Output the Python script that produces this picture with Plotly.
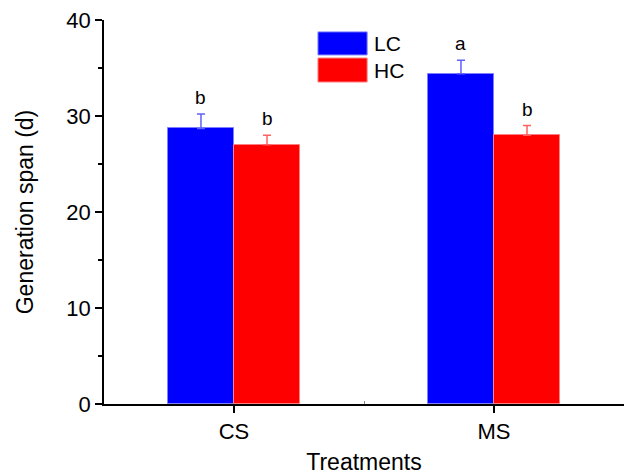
import plotly.graph_objects as go

categories = ["CS", "MS"]
cat_pos = [0, 1]
lc_values = [28.7, 34.4]
lc_errors = [1.5, 1.4]
hc_values = [27.0, 28.0]
hc_errors = [1.0, 1.0]
lc_letters = ["b", "a"]
hc_letters = ["b", "b"]
series_names = ["LC", "HC"]
y_ticks = [0, 10, 20, 30, 40]

FONT = "Liberation Sans, Arial, sans-serif"
BAR_W = 0.254
OFF = BAR_W / 2

fig = go.Figure()
fig.add_trace(go.Bar(
    x=[p - OFF for p in cat_pos], y=lc_values, width=BAR_W, name=series_names[0],
    marker=dict(color="#0000ff", line=dict(color="#7f7fff", width=1)),
    error_y=dict(type="data", array=lc_errors, arrayminus=[0, 0], symmetric=False,
                 color="#6060ff", thickness=1.5, width=4),
    showlegend=False))
fig.add_trace(go.Bar(
    x=[p + OFF for p in cat_pos], y=hc_values, width=BAR_W, name=series_names[1],
    marker=dict(color="#ff0000", line=dict(color="#ff8080", width=1)),
    error_y=dict(type="data", array=hc_errors, arrayminus=[0, 0], symmetric=False,
                 color="#ff6060", thickness=1.5, width=4),
    showlegend=False))

for i, p in enumerate(cat_pos):
    fig.add_annotation(x=p - OFF, y=lc_values[i] + lc_errors[i], text=lc_letters[i],
                       showarrow=False, yanchor="bottom", yshift=4,
                       font=dict(family=FONT, size=19, color="black"))
    fig.add_annotation(x=p + OFF, y=hc_values[i] + hc_errors[i], text=hc_letters[i],
                       showarrow=False, yanchor="bottom", yshift=4,
                       font=dict(family=FONT, size=19, color="black"))

# custom legend
legend_colors = [("#0000ff", "#7f7fff"), ("#ff0000", "#ff8080")]
legend_rows = [(0.909, 0.969), (0.8385, 0.901)]
for (fill, edge), (y0, y1), name in zip(legend_colors, legend_rows, series_names):
    fig.add_shape(type="rect", xref="paper", yref="paper", x0=0.4115, x1=0.506,
                  y0=y0, y1=y1, fillcolor=fill, line=dict(color=edge, width=1))
    fig.add_annotation(xref="paper", yref="paper", x=0.515, y=(y0 + y1) / 2,
                       text=name, showarrow=False, xanchor="left", yanchor="middle",
                       font=dict(family=FONT, size=21, color="black"))

fig.update_layout(
    width=631, height=475,
    margin=dict(l=104, r=7, t=20, b=71),
    plot_bgcolor="white", paper_bgcolor="white",
    font=dict(family=FONT, size=22, color="black"),
    bargap=0, barmode="overlay",
)
fig.update_xaxes(
    range=[-0.5, 1.5], tickmode="array", tickvals=cat_pos, ticktext=categories,
    showline=True, linecolor="black", linewidth=1.5, ticks="outside", ticklen=7,
    tickwidth=1.5, tickcolor="black", showgrid=False, zeroline=False, automargin=False,
    title=dict(text="Treatments", font=dict(size=23), standoff=14),
    tickfont=dict(size=22),
    minor=dict(tickvals=[0.5], ticks="inside", ticklen=3, tickwidth=1, tickcolor="#888"),
)
fig.update_yaxes(
    range=[0, 40], tickmode="array", tickvals=y_ticks,
    showline=True, linecolor="black", linewidth=1.5, ticks="outside", ticklen=7,
    tickwidth=1.5, tickcolor="black", showgrid=False, zeroline=False, automargin=False,
    title=dict(text="Generation span (d)", font=dict(size=23), standoff=26),
    tickfont=dict(size=22),
    minor=dict(dtick=5, ticks="outside", ticklen=4, tickwidth=1.5, tickcolor="black"),
)

fig.write_html("out.html", config={"displayModeBar": False},
               post_script="document.body.style.margin='0px';")
